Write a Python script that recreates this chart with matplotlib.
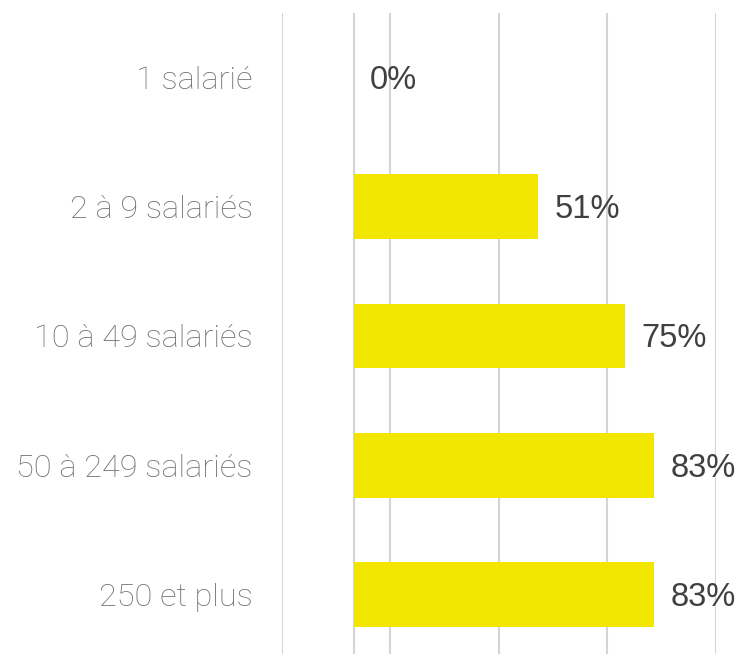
import matplotlib.pyplot as plt
import numpy as np

categories = ["1 salarié", "2 à 9 salariés", "10 à 49 salariés", "50 à 249 salariés", "250 et plus"]
values = [0, 51, 75, 83, 83]
grid_ticks = [-20, 10, 40, 70, 100]

fig = plt.figure(figsize=(7.39, 6.54), dpi=100)
ax = fig.add_axes([281.7 / 739, -0.008, 434 / 739, 0.9886])

y = np.arange(len(categories))
ax.barh(y, values, height=0.5, color="#f2e600", zorder=2)
ax.set_xlim(-20, 100)
ax.set_ylim(len(categories) - 0.5, -0.5)

ax.set_xticks(grid_ticks)
ax.xaxis.grid(True, color="#d4d4d4", linewidth=1.5, zorder=0)
ax.axvline(0, color="#d4d4d4", linewidth=1.5, zorder=1)
ax.tick_params(axis="x", length=0, labelbottom=False)
ax.tick_params(axis="y", length=0, pad=21)
ax.set_yticks(y)
ax.set_yticklabels(categories, fontsize=23.4, color="#6f6f6f", family="Roboto", fontweight="light")
for s in ax.spines.values():
    s.set_visible(False)

for yi, v in zip(y, values):
    ax.annotate(f"{v}%", (v, yi), xytext=(16, -3), textcoords="offset pixels",
                va="center", ha="left", fontsize=23.5, color="#404040",
                family="Liberation Sans", annotation_clip=False, clip_on=False)

fig.savefig("out.png", dpi=100)
